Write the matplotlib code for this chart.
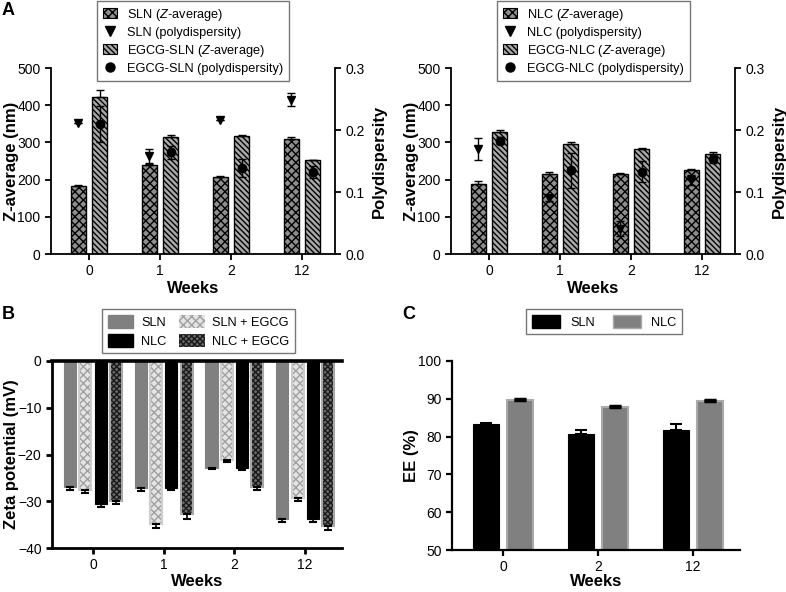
import numpy as np
import matplotlib
matplotlib.use('Agg')
import matplotlib.pyplot as plt
from matplotlib.patches import Patch
from matplotlib.lines import Line2D

plt.rcParams['font.family'] = ['Liberation Sans', 'DejaVu Sans']
plt.rcParams['mathtext.fontset'] = 'custom'
plt.rcParams['mathtext.rm'] = 'Liberation Sans'
plt.rcParams['mathtext.it'] = 'Liberation Sans:italic'
plt.rcParams['hatch.linewidth'] = 1.0
plt.rcParams['axes.unicode_minus'] = True

# ------------------------------------------------------------
# data
# ------------------------------------------------------------
weeks_a = ['0', '1', '2', '12']

# A left: SLN
sln_z = [184, 240, 208, 310]
sln_z_err = [1, 3, 2, 5]
egcg_sln_z = [421, 315, 318, 252]
egcg_sln_z_err = [20, 5, 2, 2]
sln_pdi = [0.211, 0.158, 0.216, 0.249]
sln_pdi_err = [0.0, 0.012, 0.0, 0.011]
egcg_sln_pdi = [0.210, 0.164, 0.139, 0.132]
egcg_sln_pdi_err = [0.029, 0.010, 0.015, 0.010]

# A right: NLC
nlc_z = [189, 216, 216, 227]
nlc_z_err = [6, 4, 3, 2]
egcg_nlc_z = [329, 295, 283, 270]
egcg_nlc_z_err = [3, 6, 3, 3]
nlc_pdi = [0.169, 0.090, 0.041, 0.120]
nlc_pdi_err = [0.018, 0.005, 0.012, 0.008]
egcg_nlc_pdi = [0.183, 0.135, 0.133, 0.154]
egcg_nlc_pdi_err = [0.005, 0.028, 0.017, 0.007]

# B: zeta potential
zeta_sln = [-26.9, -27.2, -22.8, -33.9]
zeta_sln_err = [0.7, 0.6, 0.4, 0.6]
zeta_sln_egcg = [-27.6, -34.9, -21.2, -29.2]
zeta_sln_egcg_err = [0.7, 0.8, 0.4, 0.7]
zeta_nlc = [-30.5, -27.2, -22.8, -33.8]
zeta_nlc_err = [0.7, 0.5, 0.5, 0.6]
zeta_nlc_egcg = [-29.9, -32.8, -26.9, -35.3]
zeta_nlc_egcg_err = [0.7, 0.9, 0.6, 0.8]

# C: encapsulation efficiency
weeks_c = ['0', '2', '12']
ee_sln = [83.3, 80.8, 81.7]
ee_sln_err = [0.3, 0.9, 1.6]
ee_nlc = [89.8, 87.8, 89.5]
ee_nlc_err = [0.2, 0.3, 0.2]

W, H = 786, 592
fig = plt.figure(figsize=(W / 100, H / 100), dpi=100)


def rect(x0, y0, x1, y1):
    return [x0 / W, 1 - y1 / H, (x1 - x0) / W, (y1 - y0) / H]


TICK_FS = 10
LAB_FS = 12
LEG_FS = 9.2


def style_axis(ax, lw=1.3):
    ax.tick_params(labelsize=TICK_FS, width=lw, length=4, direction='out')
    for s in ax.spines.values():
        s.set_linewidth(lw)


def place_labels(ax, x0, w, y1, h, ylab_x, xlab_top):
    # ylab_x: right edge of the rotated y label, xlab_top: top of x label (px)
    ax.yaxis.set_label_coords((ylab_x - x0) / w, 0.5)
    ax.xaxis.set_label_coords(0.5, -(xlab_top - y1) / h)


# ============================================================
# Panel A (two halves)
# ============================================================
def panel_a(box, name, z1, z1e, z2, z2e, p1, p1e, p2, p2e, leg_x):
    x0, y0, x1, y1 = box
    ax = fig.add_axes(rect(*box))
    x = np.arange(len(weeks_a))
    w = 0.215
    ax.bar(x - 0.15, z1, w, color='#8e8e8e', edgecolor='black',
           hatch='xxxx', linewidth=1.0, zorder=2)
    ax.bar(x + 0.15, z2, w, color='#a8a8a8', edgecolor='black',
           hatch='\\\\\\\\\\\\', linewidth=1.0, zorder=2)
    ax.errorbar(x - 0.15, z1, yerr=[np.zeros(4), z1e], fmt='none',
                ecolor='black', elinewidth=1, capsize=3, capthick=1, zorder=3)
    ax.errorbar(x + 0.15, z2, yerr=[np.zeros(4), z2e], fmt='none',
                ecolor='black', elinewidth=1, capsize=3, capthick=1, zorder=3)
    ax.set_xlim(-0.535, 3.465)
    ax.set_ylim(0, 500)
    ax.set_yticks([0, 100, 200, 300, 400, 500])
    ax.set_xticks(x)
    ax.set_xticklabels(weeks_a)
    ax.set_ylabel('Z-average (nm)', fontsize=LAB_FS, fontweight='bold')
    ax.set_xlabel('Weeks', fontsize=LAB_FS, fontweight='bold')
    place_labels(ax, x0, x1 - x0, y1, y1 - y0, ylab_x=x0 - 32, xlab_top=281)
    ax.spines['top'].set_visible(False)
    ax.spines['right'].set_visible(False)
    style_axis(ax)

    ax2 = ax.twinx()
    ax2.errorbar(x - 0.15, p1, yerr=p1e, fmt='v', color='black', ms=6,
                 elinewidth=1, capsize=3, capthick=1)
    ax2.errorbar(x + 0.15, p2, yerr=p2e, fmt='o', color='black', ms=6,
                 elinewidth=1, capsize=3, capthick=1)
    ax2.set_ylim(0, 0.3)
    ax2.set_yticks([0.0, 0.1, 0.2, 0.3])
    ax2.set_yticklabels(['0.0', '0.1', '0.2', '0.3'])
    ax2.set_ylabel('Polydispersity', fontsize=LAB_FS, fontweight='bold', labelpad=5)
    for s in ['top', 'left', 'bottom']:
        ax2.spines[s].set_visible(False)
    style_axis(ax2)

    handles = [
        Patch(facecolor='#8e8e8e', edgecolor='black', hatch='xxxx', linewidth=0.8),
        Line2D([], [], marker='v', color='black', ls='none', ms=6.5),
        Patch(facecolor='#a8a8a8', edgecolor='black', hatch='\\\\\\\\\\\\', linewidth=0.8),
        Line2D([], [], marker='o', color='black', ls='none', ms=6.5),
    ]
    labels = [name + ' ($\\mathit{Z}$-average)', name + ' (polydispersity)',
              'EGCG-' + name + ' ($\\mathit{Z}$-average)',
              'EGCG-' + name + ' (polydispersity)']
    leg = ax2.legend(handles, labels, loc='upper left',
                     bbox_to_anchor=(leg_x / W, 1 - 1 / H),
                     bbox_transform=fig.transFigure, fontsize=LEG_FS,
                     frameon=True, fancybox=False, handlelength=1.1,
                     handleheight=0.8, handletextpad=0.8, labelspacing=0.3,
                     borderpad=0.45, borderaxespad=0)
    leg.get_frame().set_edgecolor('#555555')
    leg.get_frame().set_linewidth(1.0)
    return ax


panel_a((51, 68, 335, 254), 'SLN', sln_z, sln_z_err, egcg_sln_z,
        egcg_sln_z_err, sln_pdi, sln_pdi_err, egcg_sln_pdi, egcg_sln_pdi_err, 97)
panel_a((451, 68, 735, 254), 'NLC', nlc_z, nlc_z_err, egcg_nlc_z,
        egcg_nlc_z_err, nlc_pdi, nlc_pdi_err, egcg_nlc_pdi, egcg_nlc_pdi_err, 497)

# ============================================================
# Panel B: zeta potential
# ============================================================
axb = fig.add_axes(rect(52, 361, 342, 548))
xb = np.arange(len(weeks_a))
wb = 0.17
offs = [-0.325, -0.108, 0.108, 0.325]
series_b = [
    (zeta_sln, zeta_sln_err, '#808080', None, None, '#808080'),
    (zeta_sln_egcg, zeta_sln_egcg_err, '#e4e4e4', 'xxxx', '#a0a0a0', '#cccccc'),
    (zeta_nlc, zeta_nlc_err, 'black', None, None, 'black'),
    (zeta_nlc_egcg, zeta_nlc_egcg_err, '#6a6a6a', 'xxxxxx', '#1a1a1a', '#a8a8a8'),
]
for off, (vals, err, fc, hatch, hc, ec) in zip(offs, series_b):
    if hatch:
        axb.bar(xb + off, vals, wb, color=fc, edgecolor=hc, hatch=hatch,
                linewidth=0, zorder=2)
        axb.bar(xb + off, vals, wb, fill=False, edgecolor=ec, linewidth=1.5,
                zorder=2)
    else:
        axb.bar(xb + off, vals, wb, color=fc, edgecolor=ec, linewidth=0.8,
                zorder=2)
    axb.errorbar(xb + off, vals, yerr=[err, np.zeros(4)], fmt='none',
                 ecolor='black', elinewidth=1.2, capsize=3, capthick=1.5, zorder=3)
axb.set_xlim(-0.58, 3.52)
axb.set_ylim(-40, 0)
axb.set_yticks([-40, -30, -20, -10, 0])
axb.set_xticks(xb)
axb.set_xticklabels(weeks_a)
axb.set_ylabel('Zeta potential (mV)', fontsize=LAB_FS, fontweight='bold')
axb.set_xlabel('Weeks', fontsize=LAB_FS, fontweight='bold')
place_labels(axb, 52, 290, 548, 187, ylab_x=19, xlab_top=574)
axb.spines['right'].set_visible(False)
style_axis(axb, lw=2.0)
axb.spines['top'].set_linewidth(2.6)
axb.tick_params(axis='x', top=False)

hb = [Patch(facecolor='#808080', edgecolor='#808080'),
      Patch(facecolor='black', edgecolor='black'),
      Patch(facecolor='#e4e4e4', edgecolor='#a0a0a0', hatch='xxxx', linewidth=0),
      Patch(facecolor='#6a6a6a', edgecolor='#1a1a1a', hatch='xxxxxx', linewidth=0)]
lb = ['SLN', 'NLC', 'SLN + EGCG', 'NLC + EGCG']
legb = axb.legend(hb, lb, ncol=2, loc='upper left',
                  bbox_to_anchor=(102 / W, 1 - 309 / H),
                  bbox_transform=fig.transFigure, fontsize=LEG_FS, frameon=True,
                  fancybox=False, handlelength=2.0, handleheight=1.2,
                  handletextpad=0.6, columnspacing=1.0, labelspacing=0.4,
                  borderpad=0.45, borderaxespad=0)
legb.get_frame().set_edgecolor('#555555')
legb.get_frame().set_linewidth(1.0)

# ============================================================
# Panel C: encapsulation efficiency
# ============================================================
axc = fig.add_axes(rect(452, 361, 740, 550))
xc = np.arange(len(weeks_c))
wc = 0.28
axc.bar(xc - 0.18, ee_sln, wc, color='black', edgecolor='black',
        linewidth=0.8, zorder=2)
axc.bar(xc + 0.18, ee_nlc, wc, color='#808080', edgecolor='#aaaaaa',
        linewidth=1.5, zorder=2)
axc.errorbar(xc - 0.18, ee_sln, yerr=[np.zeros(3), ee_sln_err], fmt='none',
             ecolor='black', elinewidth=1.5, capsize=4, capthick=1.5, zorder=3)
axc.errorbar(xc + 0.18, ee_nlc, yerr=[np.zeros(3), ee_nlc_err], fmt='none',
             ecolor='black', elinewidth=1.5, capsize=4, capthick=2.5, zorder=3)
axc.set_xlim(-0.537, 2.495)
axc.set_ylim(50, 100)
axc.set_yticks([50, 60, 70, 80, 90, 100])
axc.set_xticks(xc)
axc.set_xticklabels(weeks_c)
axc.set_ylabel('EE (%)', fontsize=LAB_FS, fontweight='bold')
axc.set_xlabel('Weeks', fontsize=LAB_FS, fontweight='bold')
place_labels(axc, 452, 288, 550, 189, ylab_x=419, xlab_top=574)
axc.spines['top'].set_visible(False)
axc.spines['right'].set_visible(False)
style_axis(axc, lw=1.6)

hc = [Patch(facecolor='black', edgecolor='black'),
      Patch(facecolor='#808080', edgecolor='#aaaaaa')]
legc = axc.legend(hc, ['SLN', 'NLC'], ncol=2, loc='upper left',
                  bbox_to_anchor=(526 / W, 1 - 309 / H),
                  bbox_transform=fig.transFigure, fontsize=LEG_FS, frameon=True,
                  fancybox=False, handlelength=2.2, handleheight=1.2,
                  handletextpad=0.8, columnspacing=1.4, borderpad=0.45,
                  borderaxespad=0)
legc.get_frame().set_edgecolor('#555555')
legc.get_frame().set_linewidth(1.0)

# panel letters
fig.text(2 / W, 1 - 2 / H, 'A', fontsize=13, fontweight='bold', va='top')
fig.text(2 / W, 1 - 306 / H, 'B', fontsize=13, fontweight='bold', va='top')
fig.text(402 / W, 1 - 306 / H, 'C', fontsize=13, fontweight='bold', va='top')

fig.savefig('out.png', dpi=100, facecolor='white')
